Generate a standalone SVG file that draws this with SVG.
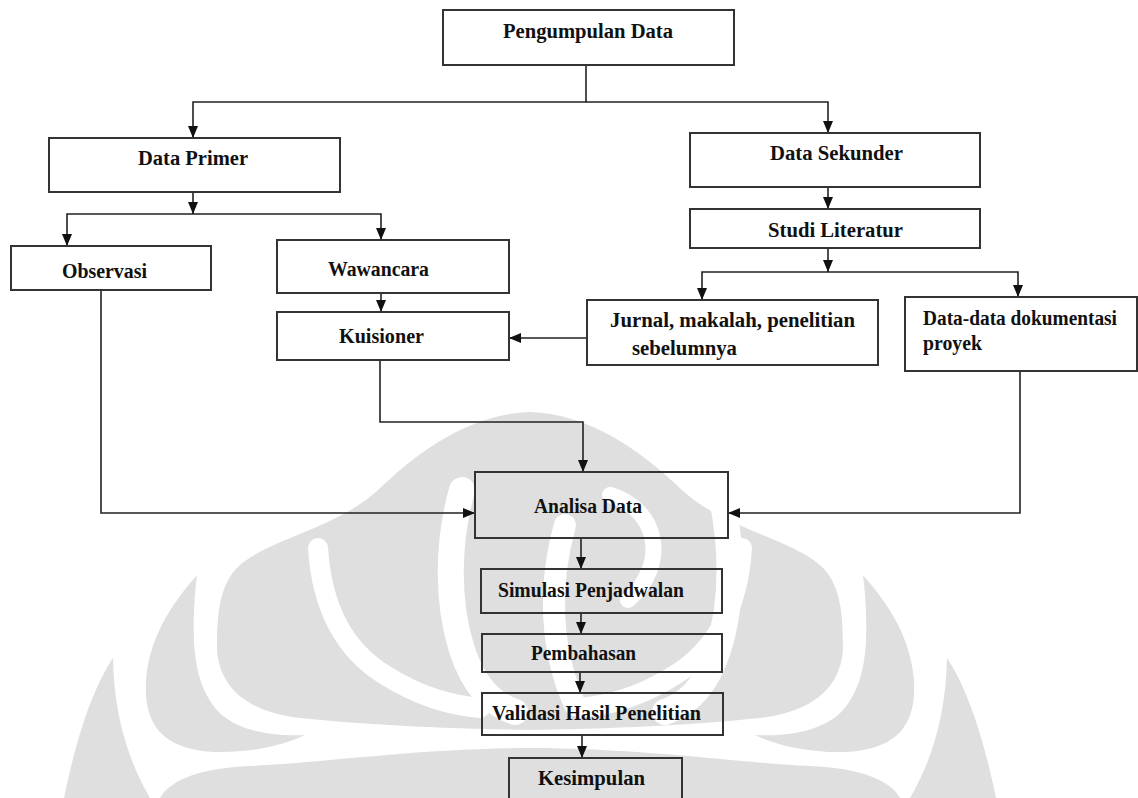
<svg xmlns="http://www.w3.org/2000/svg" width="1138" height="798" viewBox="0 0 1138 798">
  <style>
    .box { fill: none; stroke: #333; stroke-width: 2; }
    .lbl { font-family: "Liberation Serif", "Times New Roman", serif; font-weight: bold; font-size: 20px; fill: #111; }
    .edge { fill: none; stroke: #222; stroke-width: 1.6; }
    .arr { marker-end: url(#head); }
    .mark { fill: #dfdfdf; }
    .gap { fill: none; stroke: #fff; stroke-linecap: round; }
  </style>
  <defs>
    <marker id="head" markerUnits="userSpaceOnUse" markerWidth="12" markerHeight="10" refX="12" refY="5" orient="auto">
      <path d="M0,0 L12,5 L0,10 z" fill="#111"/>
    </marker>
  </defs>
  <rect width="1138" height="798" fill="#fff"/>

  <!-- faint emblem behind the flow -->
  <g id="emblem">
    <path class="mark" d="M530,412 C470,414 420,450 378,490 C335,530 262,540 235,570 C218,590 217,620 217,650 C220,690 250,712 300,718 C360,724 420,728 530,730 C640,728 700,724 760,718 C810,712 840,690 843,650 C843,620 842,590 825,570 C798,540 725,530 682,490 C640,450 590,414 530,412 Z"/>
    <path class="mark" d="M113,658 C95,685 78,730 64,798 H150 C128,760 114,715 113,658 Z"/>
    <path class="mark" d="M947,658 C965,685 982,730 996,798 H910 C932,760 946,715 947,658 Z"/>
    <path class="mark" d="M197,575 C180,595 150,630 146,680 C143,730 168,750 215,752 C250,753 285,745 305,735 C270,737 240,730 222,715 C203,698 195,670 194,640 C193,615 195,590 197,575 Z"/>
    <path class="mark" d="M863,575 C880,595 910,630 914,680 C917,730 892,750 845,752 C810,753 775,745 755,735 C790,737 820,730 838,715 C857,698 865,670 866,640 C867,615 865,590 863,575 Z"/>
    <path class="mark" d="M160,798 C170,780 200,768 250,766 C320,763 420,748 530,748 C640,748 740,763 810,766 C860,768 890,780 900,798 Z"/>
    <path class="gap" stroke-width="20" d="M318,548 C322,610 345,650 385,675 C420,697 450,705 480,708"/>
    <path class="gap" stroke-width="20" d="M742,548 C738,610 715,650 675,675 C640,697 610,705 580,708"/>
    <path class="gap" stroke-width="26" d="M462,490 C448,540 446,600 462,650 C475,690 495,705 515,712"/>
    <path class="gap" stroke-width="26" d="M720,490 C732,540 734,600 718,650 C705,690 685,705 665,712"/>
    <path class="gap" stroke-width="22" d="M565,525 C548,585 550,650 575,705"/>
    <path class="gap" stroke-width="16" d="M610,495 C660,510 668,565 628,600"/>
  </g>

  <!-- connectors -->
  <g id="connectors">
    <path class="edge arr" d="M586,65 V102 H193 V138"/>
    <path class="edge arr" d="M586,102 H828 V133"/>
    <path class="edge arr" d="M193,192 V214"/>
    <path class="edge arr" d="M193,214 H67 V246"/>
    <path class="edge arr" d="M193,214 H381 V240"/>
    <path class="edge arr" d="M381,293 V312"/>
    <path class="edge arr" d="M587,338 H509"/>
    <path class="edge arr" d="M380,360 V422 H583 V472"/>
    <path class="edge arr" d="M101,290 V513 H475"/>
    <path class="edge arr" d="M1020,371 V513 H728"/>
    <path class="edge arr" d="M828,187 V209"/>
    <path class="edge arr" d="M828,248 V272"/>
    <path class="edge arr" d="M828,272 H702 V300"/>
    <path class="edge arr" d="M828,272 H1018 V297"/>
    <path class="edge arr" d="M581,538 V569"/>
    <path class="edge arr" d="M581,613 V634"/>
    <path class="edge arr" d="M580,672 V693"/>
    <path class="edge arr" d="M582,735 V758"/>
  </g>

  <g id="pengumpulan-data">
    <rect class="box" x="443" y="10" width="291" height="55"/>
    <text class="lbl" x="503" y="38" textLength="170" lengthAdjust="spacingAndGlyphs">Pengumpulan Data</text>
  </g>
  <g id="data-primer">
    <rect class="box" x="49" y="138" width="291" height="54"/>
    <text class="lbl" x="138" y="165" textLength="110" lengthAdjust="spacingAndGlyphs">Data Primer</text>
  </g>
  <g id="data-sekunder">
    <rect class="box" x="690" y="133" width="290" height="54"/>
    <text class="lbl" x="770" y="160" textLength="133" lengthAdjust="spacingAndGlyphs">Data Sekunder</text>
  </g>
  <g id="observasi">
    <rect class="box" x="11" y="246" width="200" height="44"/>
    <text class="lbl" x="62" y="278" textLength="85" lengthAdjust="spacingAndGlyphs">Observasi</text>
  </g>
  <g id="wawancara">
    <rect class="box" x="277" y="240" width="232" height="53"/>
    <text class="lbl" x="328" y="276" textLength="101" lengthAdjust="spacingAndGlyphs">Wawancara</text>
  </g>
  <g id="studi-literatur">
    <rect class="box" x="690" y="209" width="290" height="39"/>
    <text class="lbl" x="768" y="237" textLength="135" lengthAdjust="spacingAndGlyphs">Studi Literatur</text>
  </g>
  <g id="kuisioner">
    <rect class="box" x="277" y="312" width="232" height="48"/>
    <text class="lbl" x="339" y="343" textLength="85" lengthAdjust="spacingAndGlyphs">Kuisioner</text>
  </g>
  <g id="jurnal">
    <rect class="box" x="587" y="300" width="291" height="65"/>
    <text class="lbl" x="610" y="327" textLength="245" lengthAdjust="spacingAndGlyphs">Jurnal, makalah, penelitian</text>
    <text class="lbl" x="632" y="355" textLength="105" lengthAdjust="spacingAndGlyphs">sebelumnya</text>
  </g>
  <g id="dokumentasi">
    <rect class="box" x="905" y="297" width="232" height="74"/>
    <text class="lbl" x="923" y="325" textLength="194" lengthAdjust="spacingAndGlyphs">Data-data dokumentasi</text>
    <text class="lbl" x="923" y="350" textLength="59" lengthAdjust="spacingAndGlyphs">proyek</text>
  </g>
  <g id="analisa-data">
    <rect class="box" x="475" y="472" width="253" height="66"/>
    <text class="lbl" x="534" y="513" textLength="108" lengthAdjust="spacingAndGlyphs">Analisa Data</text>
  </g>
  <g id="simulasi">
    <rect class="box" x="481" y="569" width="241" height="44"/>
    <text class="lbl" x="498" y="597" textLength="186" lengthAdjust="spacingAndGlyphs">Simulasi Penjadwalan</text>
  </g>
  <g id="pembahasan">
    <rect class="box" x="482" y="634" width="240" height="38"/>
    <text class="lbl" x="531" y="660" textLength="105" lengthAdjust="spacingAndGlyphs">Pembahasan</text>
  </g>
  <g id="validasi">
    <rect class="box" x="482" y="693" width="241" height="42"/>
    <text class="lbl" x="492" y="720" textLength="209" lengthAdjust="spacingAndGlyphs">Validasi Hasil Penelitian</text>
  </g>
  <g id="kesimpulan">
    <rect class="box" x="509" y="758" width="173" height="60"/>
    <text class="lbl" x="538" y="785" textLength="107" lengthAdjust="spacingAndGlyphs">Kesimpulan</text>
  </g>
</svg>
